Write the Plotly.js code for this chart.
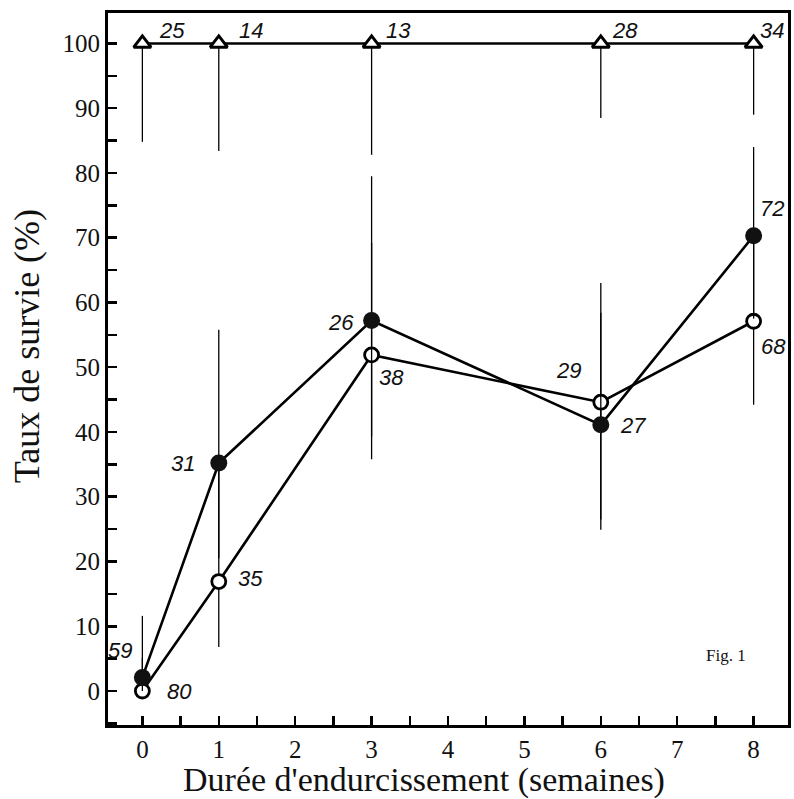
<!DOCTYPE html>
<html>
<head>
<meta charset="utf-8">
<script src="https://cdn.plot.ly/plotly-3.0.1.min.js"></script>
<style>html,body{margin:0;padding:0;background:#fff;}#chart{width:794px;height:799px;}</style>
</head>
<body>
<div id="chart"></div>
<script>
// ---- data ----
const weeks = [0, 1, 3, 6, 8];
const xTickLabels = ['0','1','2','3','4','5','6','7','8'];
const yTickLabels = ['0','10','20','30','40','50','60','70','80','90','100'];

const triangleY   = [100, 100, 100, 100, 100];
const triangleLow = [84.8, 83.4, 82.8, 88.5, 89.0];
const triangleN   = ['25', '14', '13', '28', '34'];

const filledY   = [2.1, 35.2, 57.2, 41.1, 70.3];
const filledUp  = [11.6, 55.8, 79.5, 63.0, 84.0];
const filledLow = [0, 20.5, 35.8, 24.9, 57.5];
const filledN   = ['59', '31', '26', '27', '72'];

const openY   = [0, 16.9, 51.9, 44.6, 57.1];
const openUp  = [5.1, 35.0, 69.2, 58.4, 70.0];
const openLow = [0, 6.8, 39.3, 26.5, 44.2];
const openN   = ['80', '35', '38', '29', '68'];

// ---- label offsets (px) ----
const triOff    = [[30,13],[32,13],[27,13],[24,13],[18,13]];
const filledOff = [[-22,27],[-36,0],[-31,-2],[32,-1],[18,27]];
const openOff   = [[37,0],[32,3],[20,-23],[-32,32],[20,-25]];

const diff = (a, b) => a.map((v, i) => v - b[i]);
const errBar = (up, low, y) => ({
  type: 'data', symmetric: false,
  array: up ? diff(up, y) : y.map(() => 0),
  arrayminus: diff(y, low),
  color: '#000', thickness: 1.3, width: 0
});

const traces = [
  {
    x: weeks, y: triangleY, mode: 'lines+markers', type: 'scatter',
    line: {color: '#000', width: 2.6},
    marker: {symbol: 'triangle-up', size: 15, color: '#fff', line: {color: '#000', width: 3}},
    error_y: errBar(null, triangleLow, triangleY),
    cliponaxis: false, hoverinfo: 'skip'
  },
  {
    x: weeks, y: openY, mode: 'lines+markers', type: 'scatter',
    line: {color: '#000', width: 2.6},
    marker: {symbol: 'circle', size: 14, color: '#fff', line: {color: '#000', width: 2.8}},
    error_y: errBar(openUp, openLow, openY),
    cliponaxis: false, hoverinfo: 'skip'
  },
  {
    x: weeks, y: filledY, mode: 'lines+markers', type: 'scatter',
    line: {color: '#000', width: 2.6},
    marker: {symbol: 'circle', size: 17, color: '#111', line: {color: '#000', width: 0}},
    error_y: errBar(filledUp, filledLow, filledY),
    cliponaxis: false, hoverinfo: 'skip'
  }
];

const serif = '"Liberation Serif", "Times New Roman", serif';
const labelFont = {family: '"Liberation Sans", Arial, sans-serif', size: 22, color: '#111', style: 'italic'};
const annotations = [];
function addLabels(ys, texts, offs) {
  weeks.forEach((w, i) => {
    annotations.push({
      x: w, y: ys[i], xref: 'x', yref: 'y', text: texts[i], showarrow: false,
      xshift: offs[i][0], yshift: offs[i][1], xanchor: 'center', yanchor: 'middle',
      font: labelFont
    });
  });
}
addLabels(triangleY, triangleN, triOff);
addLabels(filledY, filledN, filledOff);
addLabels(openY, openN, openOff);

annotations.push({
  xref: 'paper', yref: 'paper', x: -0.119, y: 0.532, text: 'Taux de survie (%)',
  textangle: -90, showarrow: false, xanchor: 'center', yanchor: 'middle',
  font: {family: serif, size: 36, color: '#111'}
});
annotations.push({
  xref: 'paper', yref: 'paper', x: 0.465, y: -0.077, text: "Durée d'endurcissement (semaines)",
  showarrow: false, xanchor: 'center', yanchor: 'middle',
  font: {family: serif, size: 34, color: '#111'}
});
annotations.push({
  xref: 'paper', yref: 'paper', x: 0.909, y: 0.097, text: 'Fig. 1',
  showarrow: false, xanchor: 'center', yanchor: 'middle',
  font: {family: serif, size: 17, color: '#111'}
});

const tickFont = {family: serif, size: 25, color: '#111'};
const layout = {
  width: 794, height: 799,
  margin: {l: 108, r: 6, t: 13, b: 74},
  paper_bgcolor: '#fff', plot_bgcolor: '#fff',
  font: {family: serif, size: 25, color: '#111'},
  showlegend: false,
  xaxis: {
    range: [-0.45, 8.45], showgrid: false, zeroline: false,
    showline: true, mirror: true, linecolor: '#000', linewidth: 3,
    tickmode: 'array', tickvals: xTickLabels.map(Number), ticktext: xTickLabels,
    ticks: 'inside', ticklen: 9, tickwidth: 2.5, tickcolor: '#000',
    minor: {tickmode: 'linear', tick0: 0, dtick: 0.5, ticks: 'inside', ticklen: 9, tickwidth: 2.5, tickcolor: '#000', showgrid: false},
    tickfont: tickFont
  },
  yaxis: {
    range: [-5.25, 104.7], showgrid: false, zeroline: false,
    showline: true, mirror: true, linecolor: '#000', linewidth: 3,
    tickmode: 'array', tickvals: yTickLabels.map(Number), ticktext: yTickLabels,
    ticks: 'inside', ticklen: 9, tickwidth: 2.5, tickcolor: '#000',
    minor: {tickmode: 'linear', tick0: 0, dtick: 5, ticks: 'inside', ticklen: 9, tickwidth: 2.5, tickcolor: '#000', showgrid: false},
    tickfont: tickFont
  },
  annotations: annotations
};

Plotly.newPlot('chart', traces, layout, {staticPlot: true, displayModeBar: false});
</script>
</body>
</html>
